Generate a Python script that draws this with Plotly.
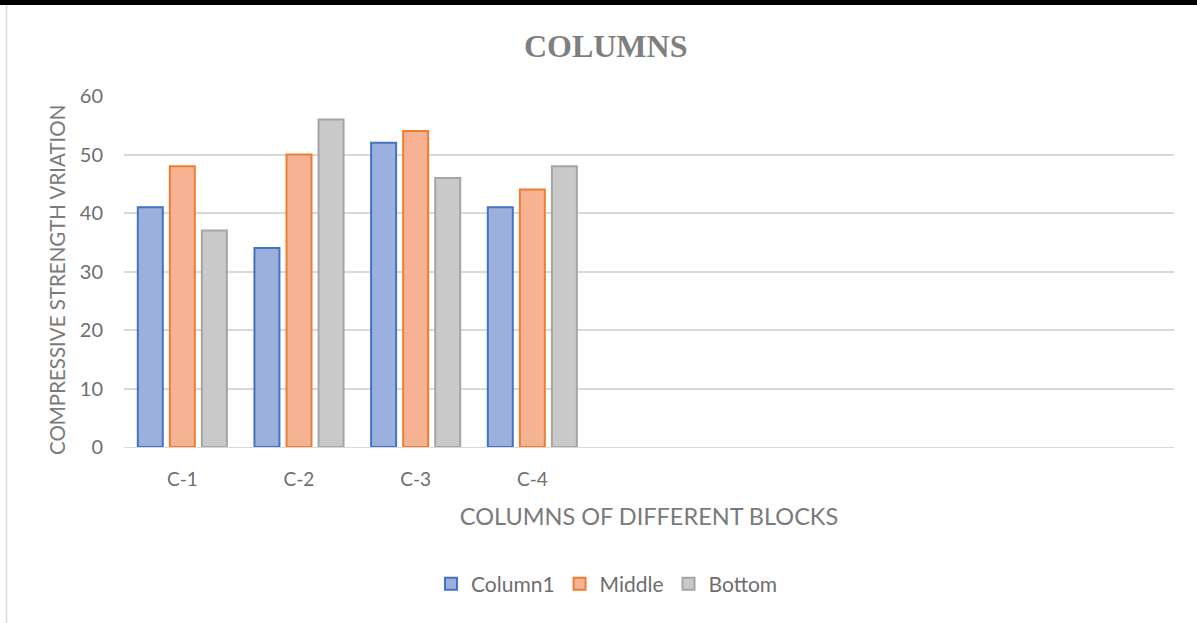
import plotly.graph_objects as go

categories = ["C-1", "C-2", "C-3", "C-4", "", "", "", "", ""]
column1 = [41, 34, 52, 41]
middle = [48, 50, 54, 44]
bottom = [37, 56, 46, 48]
y_ticks = [0, 10, 20, 30, 40, 50, 60]

x_pos = list(range(len(categories)))
W, H = 1197, 623
L, R, T, B = 124, 23, 96, 176
pw, ph = W - L - R, H - T - B

def px(x):
    return (x - L) / pw

def py(y):
    return (H - B - y) / ph

font = "Lato, Carlito, Calibri, sans-serif"
gray = "#6e6e6e"

fig = go.Figure()
series = [
    ("Column1", column1, "#9cb0de", "#4472c4"),
    ("Middle", middle, "#f5b394", "#ed7d31"),
    ("Bottom", bottom, "#c9c9c9", "#a5a5a5"),
]
for name, vals, fill, line in series:
    fig.add_trace(go.Bar(
        name=name, x=x_pos[:len(vals)], y=vals,
        marker=dict(color=fill, line=dict(color=line, width=2)),
    ))

fig.update_layout(
    width=W, height=H,
    margin=dict(l=L, r=R, t=T, b=B),
    paper_bgcolor="white", plot_bgcolor="white",
    barmode="group", bargap=0.176, bargroupgap=0.22,
    title=dict(text="<b>COLUMNS</b>", x=0.506, xanchor="center", y=1 - 46 / H, yanchor="middle",
               font=dict(family="Liberation Serif, Times New Roman, serif", size=32, color="#7f7f7f")),
    font=dict(family=font, color=gray),
    legend=dict(orientation="h", x=px(607), xanchor="center", y=py(584), yanchor="middle",
                font=dict(size=21, color=gray), itemwidth=30, traceorder="normal"),
    xaxis=dict(
        range=[-0.5, len(categories) - 0.5],
        tickmode="array", tickvals=x_pos, ticktext=categories,
        showgrid=False, zeroline=False, showline=True, linecolor="#d9d9d9", linewidth=1,
        ticks="", ticklabelstandoff=15,
        tickfont=dict(size=19, color=gray),
        title=dict(text="COLUMNS OF DIFFERENT BLOCKS", font=dict(size=23.5, color="#7a7a7a"), standoff=19),
    ),
    yaxis=dict(
        range=[0, 60], tickmode="array", tickvals=y_ticks,
        showgrid=True, gridcolor="#d9d9d9", gridwidth=1.5,
        zeroline=False, showline=False, ticks="", ticklabelstandoff=20,
        tickfont=dict(size=20, color=gray),
    ),
    annotations=[
        dict(text="COMPRESSIVE STRENGTH VRIATION", textangle=-90, showarrow=False,
             xref="paper", yref="paper", x=px(57), y=py(280), xanchor="center", yanchor="middle",
             font=dict(size=20.5, color="#7a7a7a")),
    ],
    shapes=[
        dict(type="rect", xref="paper", yref="paper", x0=px(0), x1=px(W), y0=py(5), y1=py(0),
             fillcolor="black", line=dict(width=0), layer="above"),
        dict(type="line", xref="paper", yref="paper", x0=px(6.5), x1=px(6.5), y0=py(H), y1=py(5),
             line=dict(color="#d9d9d9", width=1.5)),
    ],
)

fig.write_html("out.html")
